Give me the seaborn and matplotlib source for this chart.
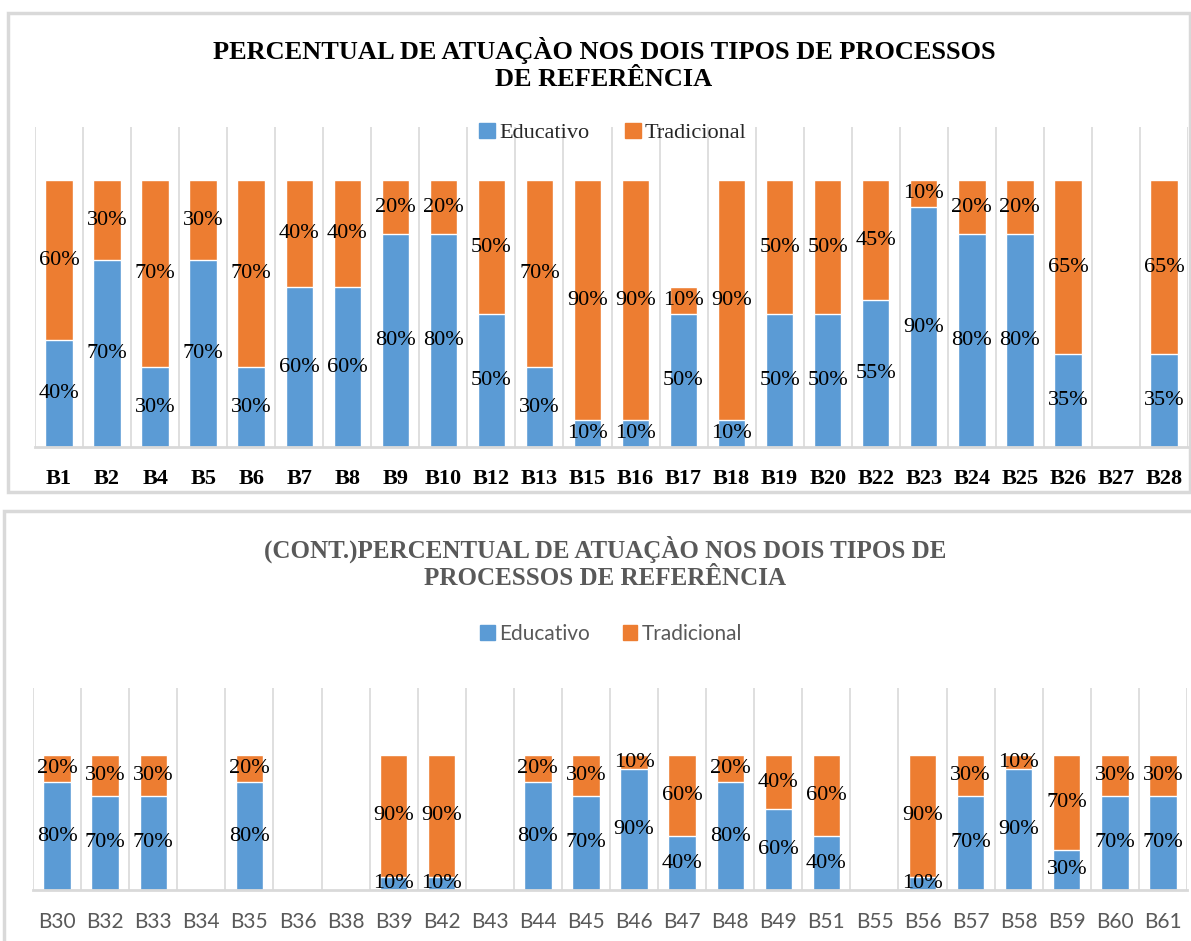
import numpy as np
import pandas as pd
import matplotlib.pyplot as plt
import seaborn as sns
from matplotlib.patches import Rectangle

sns.set_theme(style="white")
plt.rcParams['font.family'] = ['Liberation Serif', 'DejaVu Serif']

BLUE = '#5B9BD5'
ORANGE = '#ED7D31'
GRID = '#d9d9d9'

# Top chart data (0 = no bar)
cats_top = ['B1', 'B2', 'B4', 'B5', 'B6', 'B7', 'B8', 'B9', 'B10', 'B12', 'B13', 'B15',
            'B16', 'B17', 'B18', 'B19', 'B20', 'B22', 'B23', 'B24', 'B25', 'B26', 'B27', 'B28']
edu_top = [40, 70, 30, 70, 30, 60, 60, 80, 80, 50, 30, 10,
           10, 50, 10, 50, 50, 55, 90, 80, 80, 35, 0, 35]
trad_top = [60, 30, 70, 30, 70, 40, 40, 20, 20, 50, 70, 90,
            90, 10, 90, 50, 50, 45, 10, 20, 20, 65, 0, 65]

# Bottom chart data (cont.)
cats_bot = ['B30', 'B32', 'B33', 'B34', 'B35', 'B36', 'B38', 'B39', 'B42', 'B43', 'B44', 'B45',
            'B46', 'B47', 'B48', 'B49', 'B51', 'B55', 'B56', 'B57', 'B58', 'B59', 'B60', 'B61']
edu_bot = [80, 70, 70, 0, 80, 0, 0, 10, 10, 0, 80, 70,
           90, 40, 80, 60, 40, 0, 10, 70, 90, 30, 70, 70]
trad_bot = [20, 30, 30, 0, 20, 0, 0, 90, 90, 0, 20, 30,
            10, 60, 20, 40, 60, 0, 90, 30, 10, 70, 30, 30]

W, H = 1191, 941


def fx(px):
    return px / W


def fy(py):
    return 1 - py / H


def draw_panel(ax, cats, edu, trad, ytop, tick_kw):
    df = pd.DataFrame({'cat': cats, 'edu': edu, 'trad': trad})
    df['total'] = df['edu'] + df['trad']
    sns.barplot(data=df, x='cat', y='total', order=cats, color=ORANGE, saturation=1,
                width=0.57, errorbar=None, ax=ax)
    sns.barplot(data=df, x='cat', y='edu', order=cats, color=BLUE, saturation=1,
                width=0.57, errorbar=None, ax=ax)

    for i, (e, t) in enumerate(zip(edu, trad)):
        if e > 0:
            ax.text(i, e / 2, f'{e}%', ha='center', va='center', fontsize=16, color='black')
        if t > 0:
            ax.text(i, e + t / 2, f'{t}%', ha='center', va='center', fontsize=16, color='black')

    n = len(cats)
    ax.set_xlim(-0.5, n - 0.5)
    ax.set_ylim(0, ytop)
    ax.set_xticks(np.arange(n + 1) - 0.5, minor=True)
    ax.grid(which='minor', axis='x', color=GRID, lw=1.2)
    ax.grid(which='major', visible=False)
    ax.set_axisbelow(True)
    ax.set_yticks([])
    ax.set_xlabel('')
    ax.set_ylabel('')
    ax.tick_params(which='both', length=0)
    ax.tick_params(axis='x', which='major', pad=16)
    for lab in ax.get_xticklabels():
        lab.update(tick_kw)
    for s in ['top', 'left', 'right']:
        ax.spines[s].set_visible(False)
    ax.spines['bottom'].set_color(GRID)
    ax.spines['bottom'].set_linewidth(2)
    ax.patch.set_alpha(0)


fig = plt.figure(figsize=(W / 100, H / 100), dpi=100)

# panel borders
fig.patches.append(Rectangle((fx(8), fy(492)), fx(1182), (492 - 13) / H, transform=fig.transFigure,
                             fill=False, ec=GRID, lw=2.5))
fig.patches.append(Rectangle((fx(4), fy(960)), fx(1200), (960 - 511) / H, transform=fig.transFigure,
                             fill=False, ec=GRID, lw=2.5))

# top chart
ax1 = fig.add_axes([fx(35), fy(447), fx(1153), (447 - 127) / H])
draw_panel(ax1, cats_top, edu_top, trad_top, 120,
           {'fontsize': 16, 'fontweight': 'bold', 'color': 'black', 'family': ['Liberation Serif']})
fig.text(fx(604), fy(64), 'PERCENTUAL DE ATUAÇÀO NOS DOIS TIPOS DE PROCESSOS\nDE REFERÊNCIA',
         ha='center', va='center', multialignment='center', fontsize=19, fontweight='bold',
         color='black', linespacing=1.25)
h1 = [Rectangle((0, 0), 1, 1, color=BLUE), Rectangle((0, 0), 1, 1, color=ORANGE)]
fig.legend(h1, ['Educativo', 'Tradicional'], loc='center', bbox_to_anchor=(fx(613), fy(133)),
           ncol=2, frameon=False, handlelength=0.7, handleheight=0.7,
           handletextpad=0.2, columnspacing=1.6, prop={'family': 'Liberation Serif', 'size': 16})

# bottom chart
ax2 = fig.add_axes([fx(33), fy(890), fx(1154), (890 - 688) / H])
draw_panel(ax2, cats_bot, edu_bot, trad_bot, 150,
           {'fontsize': 15, 'color': '#595959', 'family': ['Liberation Sans Narrow', 'Lato']})
fig.text(fx(605), fy(563), '(CONT.)PERCENTUAL DE ATUAÇÀO NOS DOIS TIPOS DE\nPROCESSOS DE REFERÊNCIA',
         ha='center', va='center', multialignment='center', fontsize=18, fontweight='bold',
         color='#595959', linespacing=1.2)
fig.legend(h1, ['Educativo', 'Tradicional'], loc='center', bbox_to_anchor=(fx(611), fy(634)),
           ncol=2, frameon=False, handlelength=0.7, handleheight=0.7, labelcolor='#595959',
           handletextpad=0.2, columnspacing=1.6, prop={'family': ['Lato'], 'size': 15})

fig.savefig('out.png', dpi=100)
